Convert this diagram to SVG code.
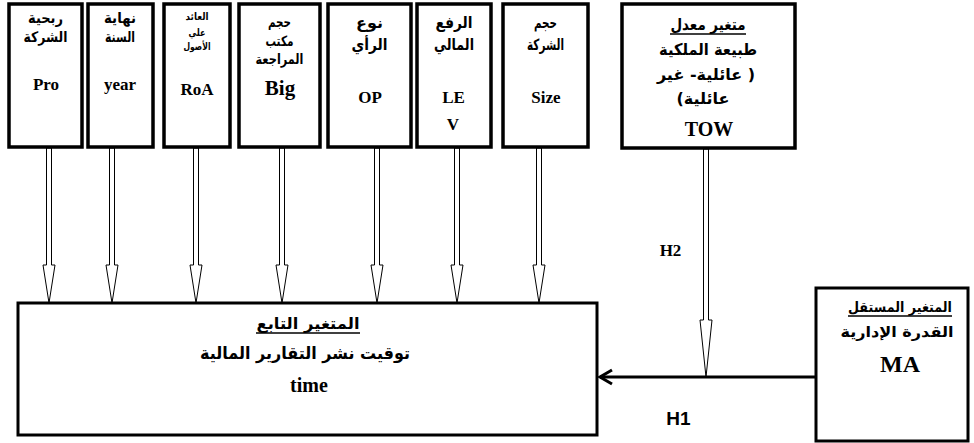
<svg xmlns="http://www.w3.org/2000/svg" width="974" height="443" viewBox="0 0 974 443">
  <style>
    .box { fill: #fff; stroke: #000; stroke-width: 3.5; }
    .big { fill: #fff; stroke: #000; stroke-width: 3; }
    .ar { font-family: "DejaVu Sans", "Noto Sans", sans-serif; font-weight: bold; fill: #000; text-anchor: middle; }
    .lat { font-family: "Liberation Serif", serif; font-weight: bold; fill: #000; text-anchor: middle; }
    .hollow { fill: #fff; stroke: #000; stroke-width: 1; }
    .ul { stroke: #000; stroke-width: 1.3; }
  </style>

  <!-- connectors -->
  <g id="connectors">
    <polygon class="hollow" points="46.5,148 46.5,265 43,265 49,303 55,265 51.5,265 51.5,148"/>
    <polygon class="hollow" points="109.5,148 109.5,265 106,265 112,303 118,265 114.5,265 114.5,148"/>
    <polygon class="hollow" points="193.5,148 193.5,265 190,265 196,303 202,265 198.5,265 198.5,148"/>
    <polygon class="hollow" points="279.5,148 279.5,265 276,265 282,303 288,265 284.5,265 284.5,148"/>
    <polygon class="hollow" points="374.5,148 374.5,265 371,265 377,303 383,265 379.5,265 379.5,148"/>
    <polygon class="hollow" points="454.5,148 454.5,265 451,265 457,303 463,265 459.5,265 459.5,148"/>
    <polygon class="hollow" points="536.5,148 536.5,265 533,265 539,303 545,265 541.5,265 541.5,148"/>
    <polygon class="hollow" points="703.5,149 703.5,320 700,320 706,377 712,320 708.5,320 708.5,149"/>
    <line x1="816" y1="377" x2="600" y2="377" stroke="#000" stroke-width="3"/>
    <polyline points="612,370 600,377 612,384" fill="none" stroke="#000" stroke-width="3"/>
    <text class="lat" x="670.5" y="256" font-size="17">H2</text>
    <text x="678.5" y="425" font-family="Liberation Sans, Arial, sans-serif" font-weight="bold" font-size="19" text-anchor="middle">H1</text>
  </g>

  <!-- Pro -->
  <g id="node-pro">
    <rect class="box" x="9" y="4" width="73" height="143"/>
    <text class="ar" x="45.5" y="23" font-size="14.5" textLength="35" lengthAdjust="spacingAndGlyphs">ربحية</text>
    <text class="ar" x="45.5" y="42" font-size="14.5" textLength="44" lengthAdjust="spacingAndGlyphs">الشركة</text>
    <text class="lat" x="46" y="90" font-size="17">Pro</text>
  </g>

  <!-- year -->
  <g id="node-year">
    <rect class="box" x="88" y="4" width="65" height="143"/>
    <text class="ar" x="120" y="23" font-size="14.5" textLength="32" lengthAdjust="spacingAndGlyphs">نهاية</text>
    <text class="ar" x="120" y="42" font-size="14.5" textLength="30" lengthAdjust="spacingAndGlyphs">السنة</text>
    <text class="lat" x="120" y="90" font-size="17">year</text>
  </g>

  <!-- RoA -->
  <g id="node-roa">
    <rect class="box" x="164" y="4" width="66" height="143"/>
    <text class="ar" x="197" y="20" font-size="10" textLength="23" lengthAdjust="spacingAndGlyphs">العائد</text>
    <text class="ar" x="197" y="36" font-size="10" textLength="17" lengthAdjust="spacingAndGlyphs">علي</text>
    <text class="ar" x="197" y="50" font-size="10" textLength="27" lengthAdjust="spacingAndGlyphs">الأصول</text>
    <text class="lat" x="197" y="95" font-size="17">RoA</text>
  </g>

  <!-- Big -->
  <g id="node-big">
    <rect class="box" x="239" y="4" width="81" height="143"/>
    <text class="ar" x="279.5" y="27" font-size="14" textLength="23" lengthAdjust="spacingAndGlyphs">حجم</text>
    <text class="ar" x="279.5" y="46" font-size="14" textLength="28" lengthAdjust="spacingAndGlyphs">مكتب</text>
    <text class="ar" x="279.5" y="64" font-size="14" textLength="48" lengthAdjust="spacingAndGlyphs">المراجعة</text>
    <text class="lat" x="280" y="95" font-size="21">Big</text>
  </g>

  <!-- OP -->
  <g id="node-op">
    <rect class="box" x="328" y="4" width="83" height="143"/>
    <text class="ar" x="369.5" y="28" font-size="15.5" textLength="27" lengthAdjust="spacingAndGlyphs">نوع</text>
    <text class="ar" x="369.5" y="50" font-size="15.5" textLength="36" lengthAdjust="spacingAndGlyphs">الرأي</text>
    <text class="lat" x="370" y="103" font-size="17">OP</text>
  </g>

  <!-- LEV -->
  <g id="node-lev">
    <rect class="box" x="417" y="4" width="74" height="143"/>
    <text class="ar" x="454" y="28" font-size="15.5" textLength="37" lengthAdjust="spacingAndGlyphs">الرفع</text>
    <text class="ar" x="454" y="50" font-size="15.5" textLength="40" lengthAdjust="spacingAndGlyphs">المالي</text>
    <text class="lat" x="453.5" y="103" font-size="17">LE</text>
    <text class="lat" x="453" y="130" font-size="17">V</text>
  </g>

  <!-- Size -->
  <g id="node-size">
    <rect class="box" x="503" y="4" width="85" height="143"/>
    <text class="ar" x="545.5" y="28" font-size="15.5" textLength="23" lengthAdjust="spacingAndGlyphs">حجم</text>
    <text class="ar" x="545.5" y="50" font-size="15.5" textLength="37" lengthAdjust="spacingAndGlyphs">الشركة</text>
    <text class="lat" x="546" y="103" font-size="17">Size</text>
  </g>

  <!-- TOW moderator -->
  <g id="node-tow">
    <rect class="box" x="622" y="4" width="173" height="144"/>
    <text class="ar" x="708" y="30" font-size="16" textLength="75" lengthAdjust="spacingAndGlyphs">متغير معدل</text>
    <line class="ul" x1="670" y1="34" x2="746" y2="34"/>
    <text class="ar" x="708" y="55" font-size="16" textLength="98" lengthAdjust="spacingAndGlyphs">طبيعة الملكية</text>
    <text class="ar" x="706" y="80" font-size="16" direction="rtl" unicode-bidi="embed">( عائلية- غير</text>
    <text class="ar" x="703" y="104" font-size="16" direction="rtl" unicode-bidi="embed">عائلية)</text>
    <text class="lat" x="709" y="136" font-size="20">TOW</text>
  </g>

  <!-- dependent variable -->
  <g id="node-time">
    <rect class="big" x="18" y="303" width="579" height="132"/>
    <text class="ar" x="308" y="329" font-size="16" textLength="103" lengthAdjust="spacingAndGlyphs">المتغير التابع</text>
    <line class="ul" x1="256" y1="333" x2="360" y2="333"/>
    <text class="ar" x="305" y="359" font-size="17" textLength="210" lengthAdjust="spacingAndGlyphs">توقيت نشر التقارير المالية</text>
    <text class="lat" x="309" y="392" font-size="20">time</text>
  </g>

  <!-- independent variable -->
  <g id="node-ma">
    <rect class="big" x="816" y="288" width="152" height="153"/>
    <text class="ar" x="900" y="312" font-size="14" textLength="104" lengthAdjust="spacingAndGlyphs">المتغير المستقل</text>
    <line class="ul" x1="848" y1="316" x2="952" y2="316"/>
    <text class="ar" x="897" y="337" font-size="15" textLength="113" lengthAdjust="spacingAndGlyphs">القدرة الإدارية</text>
    <text class="lat" x="900" y="372" font-size="24">MA</text>
  </g>
</svg>
